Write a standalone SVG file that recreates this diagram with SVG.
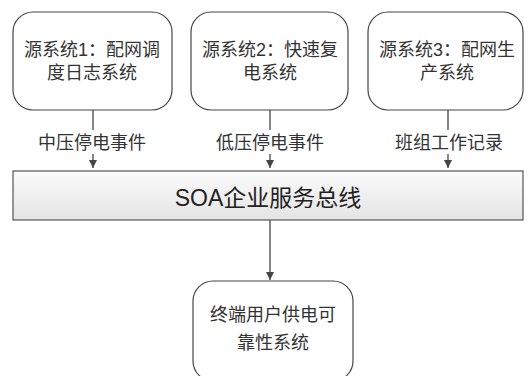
<svg xmlns="http://www.w3.org/2000/svg" width="529" height="376" viewBox="0 0 529 376">
<style>
.box{fill:#fff;stroke:#444;stroke-width:1.2}
.t{font-family:"Liberation Sans","Noto Sans CJK SC",sans-serif;font-size:18px;fill:#333;text-anchor:middle}
.c{stroke:#444;stroke-width:1.3;fill:none}
</style>
<defs>
<linearGradient id="g" x1="0" y1="0" x2="0" y2="1"><stop offset="0" stop-color="#fbfbfb"/><stop offset="1" stop-color="#e4e4e4"/></linearGradient>
<marker id="a" viewBox="0 0 10 10" refX="10" refY="5" markerWidth="8" markerHeight="8" markerUnits="userSpaceOnUse" orient="auto"><path d="M0,0L10,5L0,10z" fill="#444"/></marker>
</defs>
<rect width="529" height="376" fill="#fff"/>
<g id="connectors">
<line class="c" x1="93" y1="110" x2="93" y2="168" marker-end="url(#a)"/>
<line class="c" x1="270" y1="110" x2="270" y2="168" marker-end="url(#a)"/>
<line class="c" x1="448" y1="110" x2="448" y2="168" marker-end="url(#a)"/>
<line class="c" x1="270" y1="220" x2="270" y2="280" marker-end="url(#a)"/>
<rect x="34" y="130" width="118" height="24" fill="#fff"/>
<rect x="211" y="130" width="118" height="24" fill="#fff"/>
<rect x="389" y="130" width="120" height="24" fill="#fff"/>
<text class="t" x="92" y="149">中压停电事件</text>
<text class="t" x="270" y="149">低压停电事件</text>
<text class="t" x="449" y="149">班组工作记录</text>
</g>
<g id="src1">
<rect class="box" x="13" y="12" width="159" height="98" rx="20"/>
<text class="t" x="92" y="56">源系统1：配网调</text>
<text class="t" x="92" y="79">度日志系统</text>
</g>
<g id="src2">
<rect class="box" x="191" y="12" width="157" height="98" rx="20"/>
<text class="t" x="270" y="56">源系统2：快速复</text>
<text class="t" x="270" y="79">电系统</text>
</g>
<g id="src3">
<rect class="box" x="368" y="12" width="155" height="98" rx="20"/>
<text class="t" x="447" y="56">源系统3：配网生</text>
<text class="t" x="447" y="79">产系统</text>
</g>
<g id="bus">
<rect x="13" y="171" width="510" height="49" fill="url(#g)" stroke="#555" stroke-width="1.2"/>
<text class="t" x="268" y="206" style="font-size:23px;fill:#222">SOA企业服务总线</text>
</g>
<g id="enduser">
<rect class="box" x="193" y="281" width="160" height="100" rx="20"/>
<text class="t" x="273" y="321">终端用户供电可</text>
<text class="t" x="273" y="349">靠性系统</text>
</g>
</svg>
